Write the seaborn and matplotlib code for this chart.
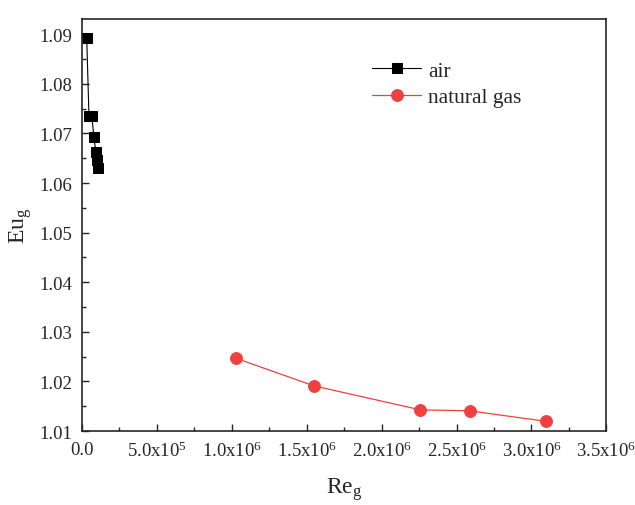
import matplotlib
matplotlib.use("Agg")
import matplotlib.pyplot as plt
import seaborn as sns
import pandas as pd
from matplotlib.ticker import MultipleLocator, FuncFormatter

air_re = [3.2e4, 4.7e4, 6.6e4, 8.0e4, 9.3e4, 1.0e5, 1.07e5]
air_eu = [1.0893, 1.0736, 1.0736, 1.0692, 1.0663, 1.0647, 1.0630]
gas_re = [1.03e6, 1.547e6, 2.258e6, 2.587e6, 3.10e6]
gas_eu = [1.02466, 1.01913, 1.01429, 1.01409, 1.01196]
xticks = [0, 5e5, 1e6, 1.5e6, 2e6, 2.5e6, 3e6, 3.5e6]
xticklabels = ["0.0", "5.0x10$^5$", "1.0x10$^6$", "1.5x10$^6$", "2.0x10$^6$",
               "2.5x10$^6$", "3.0x10$^6$", "3.5x10$^6$"]

sns.set_style("ticks")
plt.rcParams['font.family'] = ['Liberation Serif', 'DejaVu Serif']
plt.rcParams['mathtext.fontset'] = 'custom'
plt.rcParams['mathtext.rm'] = 'Liberation Serif'
plt.rcParams['mathtext.it'] = 'Liberation Serif:italic'

air = pd.DataFrame({"Re": air_re, "Eu": air_eu})
gas = pd.DataFrame({"Re": gas_re, "Eu": gas_eu})

fig = plt.figure(figsize=(6.35, 5.06), dpi=100)
ax = fig.add_axes([0.129, 0.146, 0.826, 0.814])

sns.lineplot(data=air, x="Re", y="Eu", ax=ax, color="black", marker="s",
             markersize=7, markeredgecolor="black", linewidth=0.8, label="air",
             sort=False)
sns.lineplot(data=gas, x="Re", y="Eu", ax=ax, color="#ef4040", marker="o",
             markersize=8.5, markeredgecolor="#ef4040", linewidth=0.9,
             label="natural gas", sort=False)

ax.set_xlim(0, 3.5e6)
ax.set_ylim(1.01, 1.093)
ax.set_xticks(xticks)
ax.set_xticklabels(xticklabels)
ax.xaxis.set_minor_locator(MultipleLocator(2.5e5))
ax.set_yticks([1.01 + 0.01 * i for i in range(9)])
ax.yaxis.set_major_formatter(FuncFormatter(lambda v, p: f"{v:.2f}"))
ax.yaxis.set_minor_locator(MultipleLocator(0.005))
ax.tick_params(which="both", direction="in", top=False, right=False,
               labelsize=13.5, pad=7)
ax.tick_params(which="major", length=5, width=1)
ax.tick_params(which="minor", length=3, width=1)
for s in ax.spines.values():
    s.set_linewidth(1.2)

ax.set_xlabel(r"$\mathrm{Re_g}$", fontsize=17, labelpad=11)
ax.set_ylabel(r"$\mathrm{Eu_g}$", fontsize=17, labelpad=4)

leg = ax.legend(loc="upper left", bbox_to_anchor=(0.516, 0.947), frameon=False,
                fontsize=15.5, handlelength=2.3, labelspacing=0.3,
                handletextpad=0.3)

fig.savefig("out.png", dpi=100)
